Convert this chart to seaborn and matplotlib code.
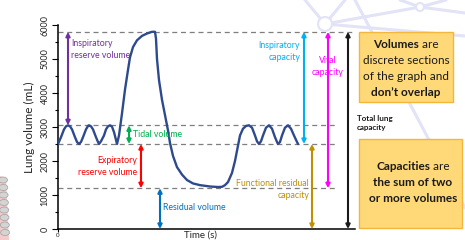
import matplotlib
matplotlib.use("Agg")
import matplotlib.pyplot as plt
import seaborn as sns
import pandas as pd
from matplotlib.lines import Line2D
from matplotlib.patches import Rectangle, Ellipse, Polygon
from matplotlib.offsetbox import TextArea, HPacker, VPacker, AnnotationBbox

# ---------------- data ----------------
# spirogram trace: time (s) and lung volume (mL)
time = [0.0, 0.3, 0.6, 0.8, 1.0, 1.2, 1.4, 1.7, 1.9, 2.1, 2.3, 2.5, 2.8, 3.0, 3.1, 3.3, 3.5,
        3.8, 4.0, 4.1, 4.3, 4.6, 4.8, 5.0, 5.2, 5.4, 5.6, 5.8, 5.9,
        6.1, 6.4, 6.7, 7.0, 7.2, 7.5, 7.9, 8.4, 8.9, 9.4, 9.7, 9.8, 9.9, 10.1, 10.4,
        10.7, 11.0, 11.2, 11.5, 11.9, 12.4, 12.9, 13.5, 14.2, 15.2, 16.0, 16.4,
        16.7, 17.0, 17.4, 17.7, 18.0, 18.2, 18.5, 18.8, 19.1, 19.4, 19.7, 19.9, 20.1,
        20.3, 20.5, 20.8, 21.1, 21.4, 21.7, 21.9, 22.0, 22.2, 22.4, 22.7, 23.0,
        23.3, 23.6, 23.9, 24.0]
volume = [2500, 2700, 2930, 3020, 3050, 3020, 2930, 2700, 2560, 2500, 2560, 2700, 2930, 3030, 3050, 3020, 2930,
          2700, 2560, 2500, 2580, 2750, 2930, 3020, 3050, 3010, 2850, 2620, 2500,
          2750, 3400, 4100, 4680, 5050, 5350, 5550, 5680, 5750, 5800, 5800, 5600, 5000, 4380, 3800,
          3350, 2900, 2530, 2150, 1820, 1600, 1440, 1340, 1290, 1250, 1235, 1240,
          1290, 1380, 1650, 2000, 2450, 2750, 2950, 3030, 3050, 2980, 2750, 2580, 2500,
          2580, 2750, 2980, 3050, 2950, 2700, 2560, 2500, 2560, 2750, 2980, 3050,
          2950, 2750, 2560, 2500]

levels = [5800, 3050, 2500, 1200]           # dashed reference levels (mL)
y_ticks = [0, 1000, 2000, 3000, 4000, 5000, 6000]

# annotated spans: name, x position (s), bottom, top (mL), colour
spans = {
    "Inspiratory\nreserve volume": (1.0, 3050, 5800, "#7030A0"),
    "Tidal volume": (7.1, 2500, 3050, "#00B050"),
    "Expiratory\nreserve volume": (8.3, 1200, 2500, "#FF0000"),
    "Residual volume": (10.2, 0, 1200, "#0070C0"),
    "Inspiratory\ncapacity": (24.6, 2500, 5800, "#00B0F0"),
    "Functional residual\ncapacity": (25.4, 0, 2500, "#BF9000"),
    "Vital\ncapacity": (27.0, 1200, 5800, "#FF00FF"),
    "Total lung\ncapacity": (29.0, 0, 5800, "#1A1A1A"),
}
# label anchor (x, y, ha) for each span
label_pos = {
    "Inspiratory\nreserve volume": (1.3, 5280, "left"),
    "Tidal volume": (7.5, 2765, "left"),
    "Expiratory\nreserve volume": (7.9, 1838, "right"),
    "Residual volume": (10.5, 618, "left"),
    "Inspiratory\ncapacity": (24.2, 5220, "right"),
    "Functional residual\ncapacity": (25.1, 1162, "right"),
    "Vital\ncapacity": (27.0, 4780, "center"),
    "Total lung\ncapacity": (29.9, 3118, "left"),
}

box1_lines = [[("Volumes", "bold"), (" are", "normal")],
              [("discrete sections", "normal")],
              [("of the graph and", "normal")],
              [("don\u2019t overlap", "bold")]]
box2_lines = [[("Capacities", "bold"), (" are", "normal")],
              [("the sum of two", "bold")],
              [("or more volumes", "bold")]]

# ---------------- figure ----------------
sns.set_theme(style="white")
plt.rcParams["font.family"] = ["Lato", "DejaVu Sans"]

W, H = 465, 240
fig = plt.figure(figsize=(W / 100, H / 100), dpi=100)
fig.patch.set_facecolor("white")


def fx(px):
    return px / W


def fy(py):
    return 1 - py / H


# faint background decoration (network lines)
deco = "#E2E3F6"
for (x0, y0, x1, y1) in [(325, 24, 305, 0), (325, 24, 345, 0), (325, 24, 420, 7),
                         (325, 24, 465, 36), (420, 7, 400, 0), (420, 7, 446, 0),
                         (420, 7, 465, 13), (355, 0, 465, 208)]:
    fig.add_artist(Line2D([fx(x0), fx(x1)], [fy(y0), fy(y1)], color=deco, lw=2.2,
                          transform=fig.transFigure, zorder=0))
for (cx, cy, r) in [(325, 24, 7), (420, 7, 4)]:
    fig.add_artist(Ellipse((fx(cx), fy(cy)), 2 * r / W, 2 * r / H, facecolor="white",
                           edgecolor=deco, lw=1.5, transform=fig.transFigure, zorder=0.5))
# cropped spine illustration at bottom-left
fig.add_artist(Polygon([(fx(0), fy(176)), (fx(6), fy(178)), (fx(9), fy(240)), (fx(0), fy(240))],
                       closed=True, facecolor="#F4CACA", edgecolor="none",
                       transform=fig.transFigure, zorder=0))
for k in range(8):
    fig.add_artist(Ellipse((fx(3 + 0.3 * k), fy(180 + 7.5 * k)), 9 / W, 6 / H, facecolor="#D4D4D4",
                           edgecolor="#A0A0A0", lw=0.5, transform=fig.transFigure, zorder=0.2))

ax = fig.add_axes([fx(58), fy(229), fx(355) - fx(58), (229 - 25) / H])
ax.set_facecolor("none")

df = pd.DataFrame({"time": time, "volume": volume})
sns.lineplot(data=df, x="time", y="volume", ax=ax, sort=False, estimator=None,
             color="#2E4A8E", lw=1.7, zorder=4)

ax.set_xlim(0, 29.7)
ax.set_ylim(0, 6000)

# dashed reference levels
for lv in levels:
    xe = 29.7 if lv == levels[0] else 27.9
    ax.plot([0, xe], [lv, lv], ls=(0, (4, 3)), color="#7F7F7F", lw=0.9, zorder=2)

# arrows and labels
for name, (x, lo, hi, c) in spans.items():
    ax.annotate("", xy=(x, lo), xytext=(x, hi),
                arrowprops=dict(arrowstyle="<|-|>", color=c, lw=1.5, mutation_scale=6,
                                shrinkA=0, shrinkB=0), zorder=5)
    lx, ly, ha = label_pos[name]
    is_tlc = name.startswith("Total")
    ax.text(lx, ly, name, color=c, ha=ha, va="center", fontsize=5.8 if is_tlc else 6.3,
            fontweight="bold" if is_tlc else "normal", linespacing=1.3, clip_on=False, zorder=6)

# axes styling
for s in ["top", "right"]:
    ax.spines[s].set_visible(False)
for s in ["left", "bottom"]:
    ax.spines[s].set_color("black")
    ax.spines[s].set_linewidth(1.1)
ax.set_yticks(y_ticks)
ax.set_yticks([v + 500 for v in y_ticks[:-1]], minor=True)
ax.set_yticklabels([str(v) for v in y_ticks], rotation=90, va="center", fontsize=6.5)
ax.set_xticks([0])
ax.set_xticklabels(["0"], fontsize=4.5)
ax.tick_params(axis="y", which="major", length=4, width=0.8, color="black", left=True, pad=2)
ax.tick_params(axis="y", which="minor", length=2.5, width=0.8, color="black", left=True)
ax.tick_params(axis="x", which="major", length=2.5, width=0.8, color="black", bottom=True, pad=0.5)
ax.set_xlabel("")
ax.set_ylabel("Lung volume (mL)", fontsize=8.5, labelpad=4)
fig.text(fx(200), fy(239.5), "Time (s)", ha="center", va="bottom", fontsize=7)

# explanation boxes
fig.add_artist(Rectangle((fx(359), fy(102)), (453 - 359) / W, (102 - 32) / H,
                         facecolor="#FFD878", edgecolor="#F5B53A", lw=1.0,
                         transform=fig.transFigure, zorder=3))
fig.add_artist(Rectangle((fx(359), fy(228)), (462 - 359) / W, (228 - 139) / H,
                         facecolor="#FFD878", edgecolor="#F5B53A", lw=1.0,
                         transform=fig.transFigure, zorder=3))


def rich_block(lines, cx, cy, fs=8.5, sep=3.6):
    rows = []
    for segs in lines:
        tas = [TextArea(t, textprops=dict(fontsize=fs, fontweight=w, color="#1A1A1A"))
               for t, w in segs]
        rows.append(HPacker(children=tas, align="baseline", pad=0, sep=0))
    vp = VPacker(children=rows, align="center", pad=0, sep=sep)
    ab = AnnotationBbox(vp, (fx(cx), fy(cy)), xycoords="figure fraction", frameon=False,
                        box_alignment=(0.5, 0.5), zorder=4)
    fig.add_artist(ab)


rich_block(box1_lines, 406, 68)
rich_block(box2_lines, 413, 182)

fig.savefig("out.png", dpi=100)
